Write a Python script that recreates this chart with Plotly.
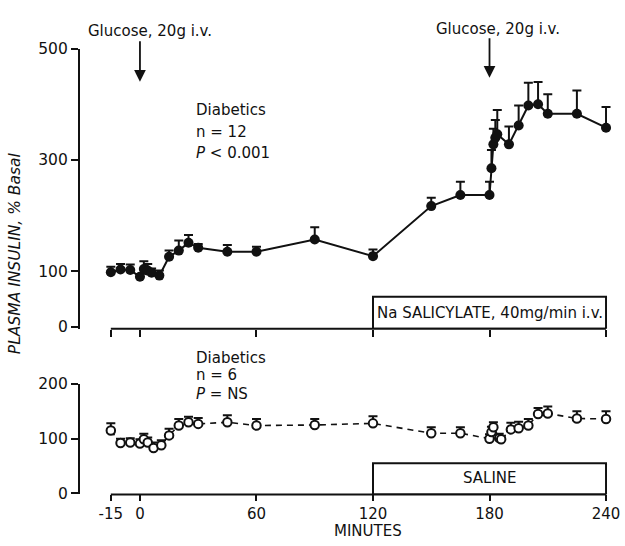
import plotly.graph_objects as go

W, H = 625, 546

# ---- data ----
top_minutes = [-15, -10, -5, 0, 2, 4, 6, 10, 15, 20, 25, 30, 45, 60, 90, 120, 150, 165,
               180, 181, 182, 183, 184, 190, 195, 200, 205, 210, 225, 240]
top_values = [98, 103, 102, 90, 104, 101, 97, 92, 126, 137, 151, 142, 135, 135, 157, 127, 217, 237,
              237, 285, 328, 340, 346, 328, 362, 398, 400, 383, 383, 358]
top_err = [10, 10, 10, 5, 14, 12, 8, 9, 11, 18, 14, 7, 12, 9, 22, 12, 15, 24,
           24, 33, 28, 32, 44, 32, 36, 41, 40, 35, 42, 37]

bot_minutes = [-15, -10, -5, 0, 2, 4, 7, 11, 15, 20, 25, 30, 45, 60, 90, 120, 150, 165,
               180, 181, 182, 185, 186, 191, 195, 200, 205, 210, 225, 240]
bot_values = [115, 92, 93, 91, 99, 93, 83, 88, 106, 124, 130, 127, 130, 124, 125, 128, 110, 110,
              100, 112, 121, 101, 99, 117, 119, 124, 145, 146, 137, 136]
bot_err = [13, 8, 8, 8, 10, 9, 10, 9, 12, 12, 10, 11, 13, 12, 11, 13, 11, 11,
           8, 10, 9, 8, 6, 12, 12, 12, 11, 13, 13, 14]

x_ticks = [-15, 0, 60, 120, 180, 240]
x_ticklabels = ["-15", "0", "60", "120", "180", "240"]
top_yticks = [0, 100, 300, 500]
bot_yticks = [0, 100, 200]

top_note = ["Diabetics", "n = 12", "<i>P</i> < 0.001"]
bot_note = ["Diabetics", "n = 6", "<i>P</i> = NS"]

FONT = "DejaVu Sans"
BLACK = "#111111"


def px(xp):
    return xp / W


def py(yp):
    return 1 - yp / H


# x scale: -15 -> 111px, 240 -> 607px
sx = (607 - 111) / 255.0
x_lo = -15 - (111 - 80) / sx
x_hi = -15 + (620 - 111) / sx

fig = go.Figure()

fig.add_trace(go.Scatter(
    x=top_minutes, y=top_values, mode="lines+markers",
    line=dict(color=BLACK, width=2),
    marker=dict(color=BLACK, size=10, symbol="circle"),
    error_y=dict(type="data", symmetric=False, array=top_err,
                 arrayminus=[0] * len(top_err), color=BLACK, thickness=2, width=4.5),
    xaxis="x", yaxis="y", showlegend=False))

fig.add_trace(go.Scatter(
    x=bot_minutes, y=bot_values, mode="lines+markers",
    line=dict(color=BLACK, width=1.6, dash="6px,5px"),
    marker=dict(color="white", size=8.5, symbol="circle",
                line=dict(color=BLACK, width=2)),
    error_y=dict(type="data", symmetric=False, array=bot_err,
                 arrayminus=[0] * len(bot_err), color=BLACK, thickness=2, width=4.5),
    xaxis="x2", yaxis="y2", showlegend=False))

axfont = dict(family=FONT, size=15.5, color=BLACK)
xfont = dict(family=FONT, size=15, color=BLACK)

fig.update_layout(
    width=W, height=H,
    margin=dict(l=0, r=0, t=0, b=0),
    paper_bgcolor="white", plot_bgcolor="white",
    font=dict(family=FONT, color=BLACK),
    xaxis=dict(domain=[px(80), px(620)], range=[x_lo, x_hi], anchor="y",
               tickvals=x_ticks, showticklabels=False, ticks="outside", ticklen=7,
               tickwidth=2, tickcolor=BLACK, showgrid=False, zeroline=False, showline=False),
    yaxis=dict(domain=[py(330), py(41)], range=[-3.5, 500], anchor="x",
               tickvals=top_yticks, ticktext=[str(v) for v in top_yticks],
               ticks="outside", ticklen=7, tickwidth=2, tickcolor=BLACK,
               showline=True, linecolor=BLACK, linewidth=2,
               showgrid=False, zeroline=False, tickfont=axfont),
    xaxis2=dict(domain=[px(80), px(620)], range=[x_lo, x_hi], anchor="y2",
                tickvals=x_ticks, ticktext=x_ticklabels, ticks="outside", ticklen=6,
                tickwidth=2, tickcolor=BLACK, showgrid=False, zeroline=False,
                showline=False, tickfont=xfont),
    yaxis2=dict(domain=[py(501), py(387)], range=[-1.8, 200], anchor="x2",
                tickvals=bot_yticks, ticktext=[str(v) for v in bot_yticks],
                ticks="outside", ticklen=7, tickwidth=2, tickcolor=BLACK,
                showline=True, linecolor=BLACK, linewidth=2,
                showgrid=False, zeroline=False, tickfont=axfont),
)

shapes = [
    # x-axis baselines (offset from the y axes)
    dict(type="line", xref="x", yref="y domain", x0=-15, x1=240, y0=0, y1=0,
         line=dict(color=BLACK, width=2)),
    dict(type="line", xref="x2", yref="y2 domain", x0=-15, x1=240, y0=0, y1=0,
         line=dict(color=BLACK, width=2)),
    # treatment boxes
    dict(type="rect", xref="x", yref="y", x0=120, x1=240, y0=-3.5, y1=54,
         line=dict(color=BLACK, width=2), fillcolor="rgba(0,0,0,0)"),
    dict(type="rect", xref="x2", yref="y2", x0=120, x1=240, y0=-1.8, y1=55,
         line=dict(color=BLACK, width=2), fillcolor="rgba(0,0,0,0)"),
]
fig.update_layout(shapes=shapes)

tf = dict(family=FONT, size=15, color=BLACK)
ann = [
    dict(text="Glucose, 20g i.v.", xref="paper", yref="paper", x=px(150), y=py(23),
         showarrow=False, font=tf, xanchor="center", yanchor="middle"),
    dict(text="Glucose, 20g i.v.", xref="paper", yref="paper", x=px(499), y=py(21),
         showarrow=False, font=tf, xanchor="center", yanchor="middle"),
    dict(text="", xref="x", yref="paper", x=0, y=py(75), ax=0, ay=-42,
         showarrow=True, arrowhead=2, arrowsize=1.3, arrowwidth=1.8, arrowcolor=BLACK),
    dict(text="", xref="x", yref="paper", x=180, y=py(71), ax=0, ay=-41,
         showarrow=True, arrowhead=2, arrowsize=1.3, arrowwidth=1.8, arrowcolor=BLACK),
    dict(text="Na SALICYLATE, 40mg/min i.v.", xref="x", yref="y", x=180, y=25,
         showarrow=False, font=dict(family=FONT, size=15, color=BLACK),
         xanchor="center", yanchor="middle"),
    dict(text="SALINE", xref="x2", yref="y2", x=180, y=28,
         showarrow=False, font=dict(family=FONT, size=15, color=BLACK),
         xanchor="center", yanchor="middle"),
    dict(text="MINUTES", xref="paper", yref="paper", x=px(369), y=py(539),
         showarrow=False, font=dict(family=FONT, size=15, color=BLACK),
         xanchor="center", yanchor="middle"),
    dict(text="<i>PLASMA INSULIN, % Basal</i>", xref="paper", yref="paper",
         x=px(15), y=py(252), textangle=-90, showarrow=False,
         font=dict(family=FONT, size=15.5, color=BLACK),
         xanchor="center", yanchor="middle"),
]
for txt, yy in zip(top_note, [104, 127, 149]):
    ann.append(dict(text=txt, xref="paper", yref="paper", x=px(194), y=py(yy),
                    showarrow=False, font=tf, xanchor="left", yanchor="middle"))
for txt, yy in zip(bot_note, [360, 378, 397]):
    ann.append(dict(text=txt, xref="paper", yref="paper", x=px(194), y=py(yy),
                    showarrow=False, font=tf, xanchor="left", yanchor="middle"))
fig.update_layout(annotations=ann)

fig.write_html("out.html")
